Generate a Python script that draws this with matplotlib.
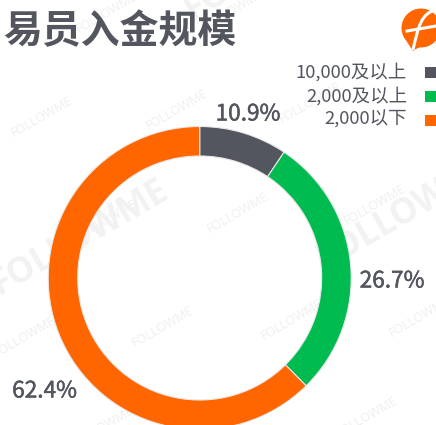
import matplotlib
matplotlib.use('Agg')
import matplotlib.pyplot as plt
import matplotlib.patheffects as pe
from matplotlib.patches import Polygon, Circle, PathPatch, Rectangle
from matplotlib.path import Path

plt.rcParams['font.family'] = ['Noto Sans CJK SC', 'DejaVu Sans']

labels = ['10,000及以上', '2,000及以上', '2,000以下']
# the slices as drawn in the picture, the printed labels say otherwise for the first two
values = [9.4, 28.2, 62.4]
pct_labels = ['10.9%', '26.7%', '62.4%']
colors = ['#53565f', '#00bb50', '#ff6600']
title = '易员入金规模'
grey = '#53565f'

W, H = 436, 425
fig = plt.figure(figsize=(W / 100, H / 100), dpi=100)
ax = fig.add_axes([0, 0, 1, 1])


def py(y):
    # picture y (from the top) to axes y
    return H - y


# watermarks
marks_small = [(42, 117), (177, 110), (107, 13), (233, 10), (310, 103), (238, 213), (163, 327),
               (292, 320), (375, 205), (420, 317), (25, 337), (107, 220), (367, 417),
               (103, 427), (247, 417)]
marks_big = [(80, 238), (406, 212), (273, -37)]
for x, y in marks_small:
    ax.text(x, py(y), 'FOLLOWME', color='#efefef', fontsize=9, rotation=30, family='Open Sans',
            ha='center', va='center', zorder=0)
for x, y in marks_big:
    ax.text(x, py(y), 'FOLLOWME', color='#f2f2f2', fontsize=25, rotation=30, family='Open Sans',
            weight='bold', ha='center', va='center', zorder=0)

wedges, _ = ax.pie(values, colors=colors, startangle=90, counterclock=False,
                   center=(199.7, py(278)), radius=151.5,
                   wedgeprops=dict(width=29.5, edgecolor='#e8e8e8', linewidth=0.8), frame=True)
for w in wedges:
    w.set_zorder(2)
ax.set_xlim(0, W)
ax.set_ylim(0, H)
ax.set_aspect('auto')
ax.axis('off')

ax.text(3, py(32), title, color=grey, fontsize=28, weight='bold', ha='left', va='center')

# legend
for name, c, y in zip(labels, colors, [72, 96, 120]):
    ax.text(407, py(y), name, color=grey, fontsize=13.3, ha='right', va='center')
    ax.add_patch(Rectangle((425, py(y + 6)), 11, 11, color=c, lw=0))

# value labels
for s, x, y in zip(pct_labels, [248, 392, 44.5], [114, 281, 391]):
    ax.text(x, py(y), s, color=grey, fontsize=16.3, ha='center', va='center',
            path_effects=[pe.withStroke(linewidth=0.35, foreground=grey)])

# logo
ax.add_patch(Circle((421, py(28)), 19.5, color='#ff6600', lw=0, zorder=3))
ax.add_patch(Polygon([(407, py(42)), (426, py(43)), (413, py(51))], color='#ff6600', lw=0, zorder=3))
stem = Path([(437, py(10)), (421, py(12)), (418, py(28)), (413, py(50))],
            [Path.MOVETO, Path.CURVE4, Path.CURVE4, Path.CURVE4])
ax.add_patch(PathPatch(stem, fill=False, edgecolor='white', lw=2.2, zorder=4))
ax.plot([407, 436], [py(31), py(26)], color='white', lw=2.2, zorder=4)

fig.savefig('out.png', dpi=100)
